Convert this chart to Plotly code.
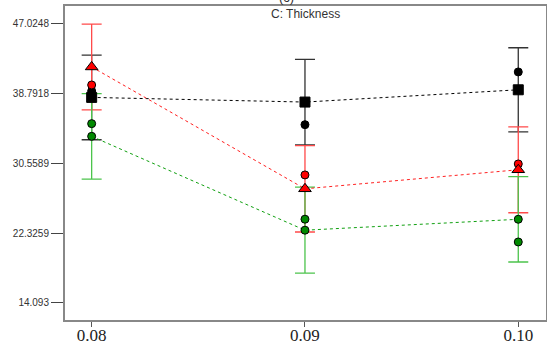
import plotly.graph_objects as go

x_levels = [0.08, 0.09, 0.10]
x_ticktext = ["0.08", "0.09", "0.10"]

y_tickvals = [14.093, 22.3259, 30.5589, 38.7918, 47.0248]
y_ticktext = ["14.093", "22.3259", "30.5589", "38.7918", "47.0248"]

black_mean = [38.35, 37.80, 39.25]
black_err = [5.00, 5.05, 4.97]
red_mean = [41.95, 27.55, 29.80]
red_err = [5.07, 5.10, 5.08]
green_mean = [33.75, 22.66, 23.95]
green_err = [5.05, 5.08, 5.05]

black_pts = [39.10, 35.13, 41.36]
red_pts = [39.82, 29.19, 30.49]
green_pts = [35.25, 23.96, 21.27]

fig = go.Figure()

series = [
    (black_mean, black_err, black_pts, "#000000", "#333333", "square", 10),
    (red_mean, red_err, red_pts, "#ff0000", "#ff4a4a", "triangle-up", 11),
    (green_mean, green_err, green_pts, "#008a00", "#4cc44c", "circle", 8),
]

# error bars first
for mean, err, pts, col, ecol, sym, sz in series:
    fig.add_trace(go.Scatter(
        x=x_levels, y=mean, mode="markers",
        marker=dict(size=1, color="rgba(0,0,0,0)"),
        error_y=dict(type="data", array=err, visible=True, color=ecol,
                     thickness=1.3, width=10),
        showlegend=False, hoverinfo="skip"))

# dotted lines
line_cols = ["#000000", "#ff2020", "#10a010"]
for (mean, err, pts, col, ecol, sym, sz), lc in zip(series, line_cols):
    fig.add_trace(go.Scatter(
        x=x_levels, y=mean, mode="lines",
        line=dict(color=lc, width=1, dash="dot"),
        showlegend=False, hoverinfo="skip"))

# design points
for mean, err, pts, col, ecol, sym, sz in series:
    fig.add_trace(go.Scatter(
        x=x_levels, y=pts, mode="markers",
        marker=dict(symbol="circle", size=8, color=col,
                    line=dict(color="#000000", width=1)),
        showlegend=False))

# mean markers
for mean, err, pts, col, ecol, sym, sz in series:
    fig.add_trace(go.Scatter(
        x=x_levels, y=mean, mode="markers",
        marker=dict(symbol=sym, size=sz, color=col,
                    line=dict(color="#000000", width=1)),
        showlegend=False))

fig.update_layout(
    width=547, height=344,
    margin=dict(l=65, r=1, t=6, b=24),
    paper_bgcolor="white", plot_bgcolor="white",
    xaxis=dict(
        range=[0.07875, 0.1013], automargin=False,
        tickvals=x_levels, ticktext=x_ticktext,
        ticks="outside", ticklen=5, tickcolor="#555555", tickwidth=1,
        ticklabelstandoff=-6,
        showline=True, linecolor="#888888", linewidth=2, mirror=True,
        showgrid=False, zeroline=False,
        tickfont=dict(family="Times New Roman, Liberation Serif, DejaVu Serif, serif",
                      size=17, color="#222222"),
    ),
    yaxis=dict(
        range=[12.05, 49.15], automargin=False,
        tickvals=y_tickvals, ticktext=y_ticktext,
        ticks="outside", ticklen=12, tickcolor="#444444", tickwidth=1,
        showline=True, linecolor="#888888", linewidth=2, mirror=True,
        showgrid=False, zeroline=False,
        tickfont=dict(family="Arial, Liberation Sans, sans-serif", size=10, color="#333333"),
    ),
    annotations=[
        dict(text="C: Thickness", x=0.5, y=0.9745, xref="paper", yref="paper",
             showarrow=False, yanchor="middle",
             font=dict(family="Arial, Liberation Sans, sans-serif", size=12, color="#333333")),
        dict(text="(c)", x=0.46, y=1.028, xref="paper", yref="paper",
             showarrow=False, yanchor="middle",
             font=dict(family="Arial, Liberation Sans, sans-serif", size=13, color="#333333")),
    ],
)

fig.write_html("out.html")
